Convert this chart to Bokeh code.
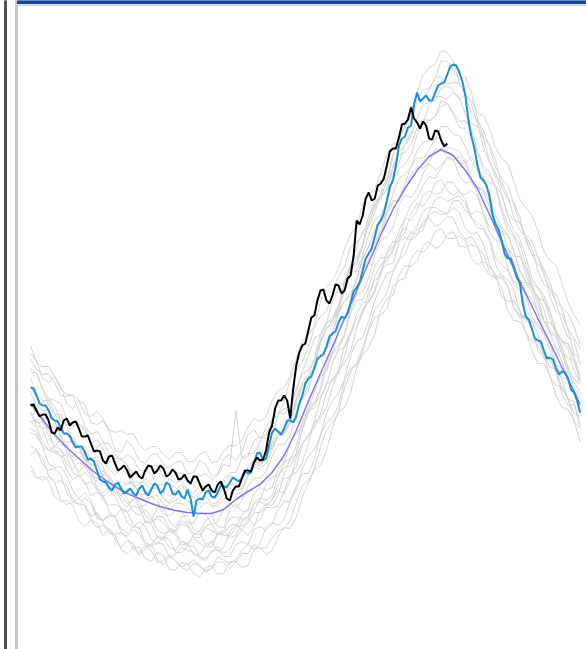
from bokeh.plotting import figure
from bokeh.models import Range1d
from bokeh.embed import file_html
from bokeh.resources import INLINE

# ---- data ----
days_mean = list(range(1, 362, 8)) + [365]
days_gray = list(range(1, 366, 4))
days_blue = list(range(1, 366, 2))
days_black = list(range(1, 278, 2))

mean_vals = [247,231,216,203,192,181,172,164,157,152,147,143,140,138,137,137,141,151,159,166,
             178,195,220,249,277,304,332,360,388,416,441,462,480,494,501,495,480,462,436,409,
             382,357,332,308,283,259,246]

blue_vals = [263,262,255,247,245,245,240,232,230,229,223,217,217,215,208,203,204,204,198,191,
             192,189,180,171,169,168,163,160,166,168,162,157,159,162,157,155,162,165,158,155,
             161,167,165,157,160,168,166,157,156,160,154,152,161,152,134,150,152,151,158,160,
             154,153,158,165,164,163,168,173,171,169,173,179,177,178,188,197,198,190,192,205,
             218,222,219,216,222,230,230,228,234,247,255,267,272,274,282,292,294,296,304,314,
             317,319,328,334,332,337,348,359,363,368,380,392,397,402,414,426,430,437,450,464,
             470,485,505,512,514,523,525,546,558,549,552,555,550,550,558,565,567,568,576,584,
             586,585,578,569,555,530,514,502,485,473,470,465,454,436,426,421,410,397,392,392,
             384,373,368,347,334,331,322,312,310,309,300,292,293,291,282,276,279,278,272,261,
             258,250,238]

black_vals = [245,246,240,234,236,236,230,218,217,223,220,230,232,225,228,229,222,214,214,215,
              207,199,200,199,190,187,194,195,187,180,182,185,180,173,176,179,174,172,180,185,
              184,177,180,185,182,174,176,181,178,171,172,176,170,167,174,174,167,160,164,166,
              160,158,166,169,162,152,150,160,164,164,172,180,180,179,188,193,190,191,200,218,
              225,242,250,250,255,250,232,262,285,298,305,307,320,333,335,350,360,361,350,347,
              355,366,365,357,360,372,375,395,430,426,435,452,458,450,452,465,467,472,485,499,
              502,502,513,526,527,531,543,532,528,522,529,525,512,511,520,519,510,504,507]

gray_g1 = [297,290,272,268,274,264,246,242,250,246,228,226,230,220,200,198,210,203,190,187,196,197,186,183,188,190,176,178,190,186,174,177,192,196,190,199,216,221,212,216,230,239,236,244,262,277,280,292,316,328,330,343,370,384,386,405,434,450,452,470,496,511,514,526,550,561,562,572,590,589,580,571,574,558,532,513,506,491,464,451,448,434,409,396,394,379,354,339,336,321,296,294]
gray_g2 = [185,174,170,174,168,151,146,148,147,145,130,123,125,121,111,103,110,107,95,102,107,91,86,94,90,83,80,87,86,78,82,94,90,87,91,100,106,101,107,123,128,125,131,150,164,177,177,191,216,228,233,245,270,282,285,299,320,333,335,342,364,370,372,391,400,398,405,419,422,412,412,414,410,392,386,389,384,376,354,349,350,339,318,308,311,295,274,265,264,252,229,222]
gray_g3 = [278,278,262,245,236,236,224,208,203,200,192,189,172,161,162,156,147,150,144,128,128,132,128,120,118,127,124,113,113,123,120,116,117,125,126,121,128,138,138,143,143,144,160,175,178,188,207,228,233,243,264,279,288,299,322,342,348,361,380,397,404,410,432,446,452,465,474,472,482,493,494,487,488,493,484,471,468,465,456,437,430,429,412,396,386,382,368,348,343,337,324,306]
gray_g4 = [238,225,222,224,214,206,204,210,203,190,190,194,190,181,176,181,177,164,166,172,166,165,158,154,161,166,157,153,158,164,160,158,172,178,178,193,197,197,208,224,232,235,250,272,280,288,303,323,334,339,356,374,384,404,408,416,434,446,453,460,482,496,498,506,522,531,530,534,544,547,536,523,522,514,498,481,474,464,442,426,416,406,386,367,362,351,332,316,310,301,280,268]
gray_g5 = [218,215,204,187,183,184,175,160,152,158,150,135,130,134,135,118,114,121,117,106,104,108,106,94,96,103,100,98,92,90,99,104,97,101,113,121,115,124,140,147,145,155,177,191,197,221,240,243,260,283,297,302,315,338,350,351,363,385,393,393,399,415,423,418,425,439,443,443,439,436,443,438,422,417,418,406,386,374,376,365,344,335,334,323,300,292,291,278,256,245,246,224]
gray_g6 = [305,288,284,284,274,261,256,255,240,225,216,219,210,196,192,192,185,169,168,168,162,163,152,147,150,155,150,143,148,155,146,148,156,162,160,162,175,186,185,192,203,215,218,228,252,268,276,290,310,327,333,345,367,387,393,406,428,443,452,462,484,499,505,515,532,546,548,550,562,565,560,551,556,550,538,535,522,503,492,487,470,451,443,435,420,399,390,385,367,348,336,326]
gray_g7 = [236,238,234,214,204,210,205,188,179,186,183,163,157,164,163,150,143,152,150,135,130,143,143,129,123,134,135,121,119,130,135,124,123,141,147,139,140,158,163,160,163,181,189,191,205,228,243,248,263,287,299,305,317,342,357,358,373,396,411,413,423,445,455,453,461,477,487,480,485,493,491,475,467,469,457,437,423,420,407,382,369,366,355,334,323,321,307,287,273,271,259,236]
gray_g8 = [205,201,186,180,182,175,158,149,152,146,134,138,128,117,116,118,112,102,98,105,100,88,90,95,90,84,86,91,84,80,82,89,88,82,88,97,97,106,102,103,113,120,122,130,148,165,170,182,203,220,228,238,263,279,288,302,323,341,348,358,378,391,396,412,422,424,438,451,454,449,452,455,447,432,428,423,412,392,386,380,367,360,343,329,327,316,300,286,282,273,256,247]
gray_g9 = [265,252,248,252,244,230,226,229,226,223,206,203,208,207,196,190,196,192,181,179,184,185,174,171,178,177,168,165,174,177,171,175,186,184,240,192,194,210,214,212,218,235,242,244,258,279,294,312,316,327,349,362,368,380,404,419,424,438,458,473,476,487,506,518,520,526,546,554,554,551,558,553,536,527,524,512,490,473,469,455,434,420,414,403,380,366,362,348,328,313,310,286]
gray_g10 = [229,223,208,200,198,195,180,171,175,169,155,158,155,139,133,142,139,126,121,129,127,113,111,122,119,109,105,116,119,106,103,117,119,113,115,129,133,125,131,144,151,160,157,170,193,207,213,229,251,267,269,281,305,319,323,337,359,370,375,398,409,409,419,437,447,444,453,467,471,460,455,460,451,433,423,421,409,386,375,371,361,340,329,329,317,296,283,282,271,251,237,234]
gray_g11 = [258,245,240,240,230,213,208,210,204,192,186,191,184,170,166,169,166,168,157,151,154,155,146,140,147,147,142,137,142,149,144,145,152,158,156,159,174,183,182,187,200,215,216,228,247,265,273,284,307,322,330,341,362,382,390,405,427,446,456,468,494,512,523,536,557,576,583,586,600,598,590,567,556,546,527,503,488,478,457,435,420,412,394,372,363,355,340,320,310,306,290,270]
gray_g12 = [196,200,192,175,168,170,165,151,145,153,147,132,130,136,133,122,117,124,123,108,105,114,113,103,100,109,107,96,95,106,109,99,103,119,125,124,130,147,153,150,155,174,183,184,197,221,237,248,253,265,287,301,303,316,337,348,349,358,380,386,387,407,413,410,415,429,433,424,427,434,433,419,411,414,405,385,375,373,363,340,330,329,319,300,287,287,275,255,243,241,230,208]
gray_g13 = [282,277,262,252,250,247,232,224,227,220,207,211,202,189,188,191,186,177,175,180,176,165,166,171,168,170,160,157,165,164,158,159,168,176,170,171,183,189,188,191,206,215,218,236,245,251,266,287,296,302,318,338,350,354,372,391,404,421,428,438,456,472,476,483,500,508,510,511,524,524,516,515,504,489,480,474,456,435,424,416,400,379,370,363,347,329,318,313,296,278,268,258]
gray_g14 = [180,172,174,170,154,149,150,145,130,124,131,127,115,122,115,101,97,103,103,92,89,98,95,81,80,88,87,77,73,83,85,76,77,89,89,83,85,101,103,96,100,114,123,122,133,154,167,181,185,200,223,239,243,258,283,296,303,316,341,352,355,375,385,384,389,405,409,402,405,416,419,405,403,406,403,396,379,372,373,364,343,333,333,322,303,295,293,283,261,251,249,226]
gray_g15 = [250,243,228,221,224,217,198,194,199,192,176,172,180,172,158,155,162,160,144,145,154,150,136,135,140,140,128,127,139,136,126,129,142,148,142,150,164,173,172,179,194,206,206,215,239,252,260,283,296,300,316,337,350,357,370,393,404,407,420,439,450,449,460,477,484,482,488,501,502,493,490,494,488,470,464,461,450,429,418,416,400,380,368,365,352,330,320,315,304,282,271,266]
gray_g16 = [292,281,276,277,268,255,254,256,250,237,234,239,232,221,218,220,216,217,206,200,204,204,196,191,198,198,189,189,196,199,188,189,200,205,205,210,223,232,229,234,250,260,263,274,292,309,315,325,348,364,370,382,402,416,424,446,456,462,478,496,507,510,526,543,550,552,560,573,574,567,568,567,556,537,530,520,504,483,472,465,447,427,416,410,394,375,362,356,342,321,312,302]
gray_g17 = [228,231,222,205,198,200,194,178,174,178,172,160,154,160,154,142,138,145,142,129,128,134,134,122,120,130,126,117,116,125,126,117,120,132,134,131,134,147,149,145,150,166,172,173,184,206,216,223,236,258,272,277,294,318,332,337,351,374,386,389,402,420,432,430,440,455,460,456,458,469,468,458,456,460,454,436,431,430,422,403,394,394,382,364,352,350,338,319,308,307,294,274]
gray_g18 = [272,257,250,250,238,221,214,213,204,191,185,186,175,160,157,159,152,139,135,141,133,120,117,119,116,105,107,112,107,103,108,117,115,115,122,136,141,140,151,166,173,175,187,208,217,224,239,259,273,279,297,320,333,341,357,380,391,400,415,436,448,451,467,484,493,492,501,512,512,503,502,499,490,471,463,459,443,422,409,403,388,366,357,351,338,319,307,303,289,270,259,252]
gray_g19 = [222,218,204,200,204,201,186,182,188,184,174,169,176,175,164,162,168,168,156,156,162,162,152,148,156,157,150,148,156,161,152,154,164,167,164,168,184,190,186,193,208,219,218,230,252,265,272,284,308,322,326,339,360,376,380,395,416,431,436,447,470,482,486,496,516,528,528,535,550,547,538,529,530,521,500,485,478,463,438,420,414,399,376,362,354,341,318,303,298,284,262,256]
gray_g20 = [238,228,229,221,201,194,196,191,176,166,169,163,150,145,146,143,128,123,129,124,111,106,114,111,98,98,104,105,94,92,99,101,94,94,106,109,106,121,124,120,126,141,149,149,161,182,194,201,214,238,250,257,272,295,309,313,330,350,364,377,380,390,408,418,416,421,436,439,436,437,450,450,440,436,440,435,418,410,408,399,380,368,368,358,340,329,328,320,300,292,290,270]

gray_series = [gray_g1, gray_g2, gray_g3, gray_g4, gray_g5, gray_g6, gray_g7, gray_g8, gray_g9, gray_g10,
               gray_g11, gray_g12, gray_g13, gray_g14, gray_g15, gray_g16, gray_g17, gray_g18, gray_g19, gray_g20]

# ---- figure ----
p = figure(width=586, height=649, x_range=Range1d(-18.87, 369.21), y_range=Range1d(1, 650),
           output_backend="svg", toolbar_location=None, min_border=0,
           x_axis_type=None, y_axis_type=None)
p.grid.visible = False
p.outline_line_color = None
p.background_fill_color = "white"
p.border_fill_color = "white"

# page frame decorations (screen-pixel ranges)
p.extra_x_ranges = {"px": Range1d(0, 586)}
p.extra_y_ranges = {"px": Range1d(649, 0)}
p.quad(left=[4], right=[6], top=[0], bottom=[649], color="#505050",
       x_range_name="px", y_range_name="px")
p.quad(left=[15], right=[17], top=[0], bottom=[649], color="#c6c6c6",
       x_range_name="px", y_range_name="px")
p.quad(left=[17], right=[586], top=[0], bottom=[4], color="#0f4b9b",
       x_range_name="px", y_range_name="px")
p.quad(left=[17], right=[586], top=[4], bottom=[5], color="#dcdcdc",
       x_range_name="px", y_range_name="px")

for g in gray_series:
    p.line(days_gray, g, line_color="#d3d3d3", line_width=1)

p.line(days_mean, mean_vals, line_color="#7c78f4", line_width=1.5)
p.line(days_blue, blue_vals, line_color="#1a8fd4", line_width=2)
p.line(days_black, black_vals, line_color="#000000", line_width=2)

open("out.html", "w").write(file_html(p, INLINE))
